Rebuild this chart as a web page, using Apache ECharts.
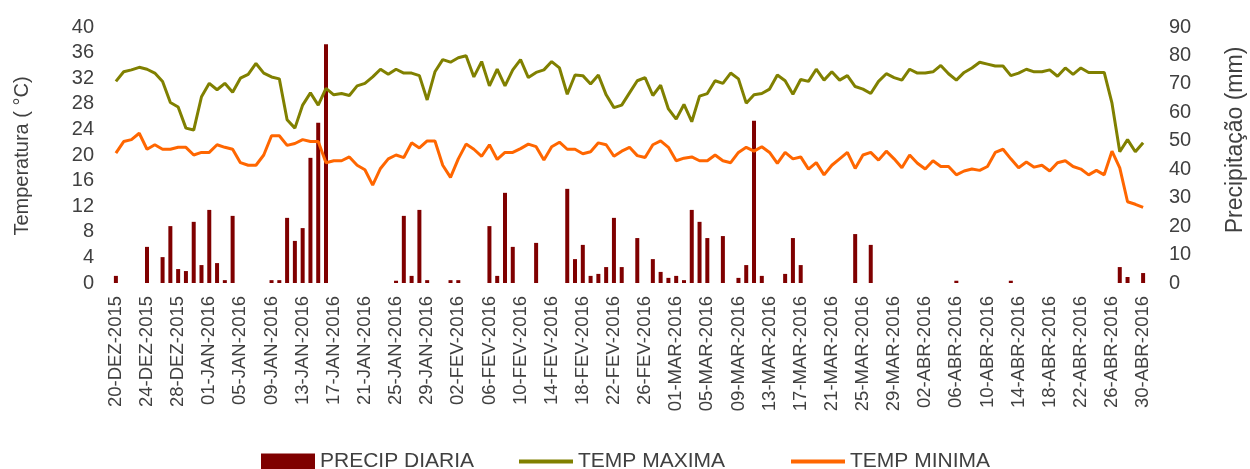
<!DOCTYPE html>
<html>
<head>
<meta charset="utf-8">
<title>Temperatura e Precipitação diária</title>
<script src="https://cdn.jsdelivr.net/npm/echarts@6/dist/echarts.min.js"></script>
<style>
  html, body { margin: 0; padding: 0; background: #ffffff; }
  #chart { width: 1250px; height: 469px; }
</style>
</head>
<body>
<div id="chart"></div>
<script>
// Daily series, 20-DEZ-2015 to 30-ABR-2016 (133 days)
const startDate = [2015, 11, 20];            // year, month index, day
const dayCount = 133;
const monthNames = ['JAN', 'FEV', 'MAR', 'ABR', 'MAI', 'JUN', 'JUL', 'AGO', 'SET', 'OUT', 'NOV', 'DEZ'];

// Daily rainfall (mm)
const precipDiaria = [
  2.5, 0, 0, 0, 12.7, 0, 9.1, 20.0, 4.9, 4.2,
  21.5, 6.3, 25.7, 7.0, 1.0, 23.6, 0, 0, 0, 0,
  1.0, 1.0, 22.9, 14.8, 19.3, 44.0, 56.3, 83.9, 0, 0,
  0, 0, 0, 0, 0, 0, 0.8, 23.6, 2.5, 25.7,
  1.0, 0, 0, 1.0, 1.0, 0, 0, 0, 20.0, 2.5,
  31.7, 12.7, 0, 0, 14.1, 0, 0, 0, 33.1, 8.4,
  13.4, 2.5, 3.2, 5.6, 22.9, 5.6, 0, 15.8, 0, 8.4,
  3.9, 1.8, 2.5, 1.0, 25.7, 21.5, 15.8, 0, 16.5, 0,
  1.8, 6.3, 57.0, 2.5, 0, 0, 3.2, 15.8, 6.3, 0,
  0, 0, 0, 0, 0, 17.2, 0, 13.4, 0, 0,
  0, 0, 0, 0, 0, 0, 0, 0, 0.8, 0,
  0, 0, 0, 0, 0, 0.8, 0, 0, 0, 0,
  0, 0, 0, 0, 0, 0, 0, 0, 0, 5.6,
  2.1, 0, 3.5
];

// Daily maximum temperature (°C)
const tempMaxima = [
  31.5, 33.0, 33.3, 33.7, 33.4, 32.8, 31.5, 28.2, 27.5, 24.2,
  23.9, 29.1, 31.2, 30.2, 31.2, 29.8, 32.0, 32.6, 34.3, 32.8,
  32.2, 31.9, 25.5, 24.2, 27.8, 29.7, 27.8, 30.4, 29.4, 29.6,
  29.3, 30.8, 31.2, 32.2, 33.4, 32.6, 33.4, 32.8, 32.8, 32.4,
  28.6, 33.0, 34.9, 34.5, 35.2, 35.5, 32.2, 34.6, 30.8, 33.4,
  30.8, 33.3, 34.9, 32.1, 32.9, 33.3, 34.6, 33.6, 29.5, 32.5,
  32.4, 31.1, 32.5, 29.4, 27.4, 27.8, 29.7, 31.6, 32.1, 29.3,
  30.9, 27.2, 25.6, 27.9, 25.2, 29.2, 29.6, 31.6, 31.2, 32.8,
  31.9, 28.1, 29.4, 29.6, 30.3, 32.5, 31.6, 29.5, 31.8, 31.5,
  33.4, 31.7, 33.0, 31.7, 32.4, 30.7, 30.3, 29.6, 31.5, 32.7,
  32.1, 31.7, 33.4, 32.8, 32.8, 33.0, 34.0, 32.7, 31.7, 32.9,
  33.6, 34.5, 34.2, 33.9, 33.9, 32.4, 32.8, 33.4, 33.0, 33.0,
  33.3, 32.3, 33.6, 32.6, 33.6, 32.9, 32.9, 32.9, 28.1, 20.5,
  22.4, 20.5, 21.9
];

// Daily minimum temperature (°C)
const tempMinima = [
  20.3, 22.1, 22.4, 23.4, 20.9, 21.6, 20.9, 20.9, 21.2, 21.2,
  20.0, 20.4, 20.4, 21.6, 21.2, 20.9, 18.8, 18.4, 18.4, 20.0,
  23.0, 23.0, 21.5, 21.8, 22.4, 22.1, 22.1, 18.8, 19.1, 19.1,
  19.7, 18.4, 17.7, 15.3, 17.9, 19.4, 20.0, 19.6, 21.9, 21.1,
  22.2, 22.2, 18.4, 16.5, 19.4, 21.7, 20.9, 19.8, 21.6, 19.3,
  20.4, 20.4, 21.0, 21.7, 21.3, 19.2, 21.3, 22.0, 20.9, 20.9,
  20.2, 20.5, 21.9, 21.6, 19.8, 20.6, 21.2, 19.9, 19.6, 21.6,
  22.2, 21.2, 19.1, 19.5, 19.7, 19.1, 19.1, 20.0, 19.1, 18.8,
  20.4, 21.2, 20.6, 21.3, 20.4, 18.7, 20.4, 19.4, 19.7, 17.8,
  18.8, 16.9, 18.4, 19.4, 20.4, 17.9, 20.0, 20.4, 19.2, 20.6,
  19.4, 18.0, 20.0, 18.7, 17.8, 19.1, 18.2, 18.2, 16.9, 17.5,
  17.8, 17.6, 18.2, 20.4, 20.9, 19.4, 18.0, 18.9, 18.1, 18.4,
  17.5, 18.8, 19.1, 18.2, 17.8, 16.9, 17.6, 16.9, 20.6, 18.0,
  12.7, 12.3, 11.8
];

// Axis scales
const tempTicks = { min: 0, max: 40, interval: 4 };
const precipTicks = { min: 0, max: 90, interval: 10 };

// Series names shown in the legend
const seriesNames = ['PRECIP DIARIA', 'TEMP MAXIMA', 'TEMP MINIMA'];

// Day labels such as "20-DEZ-2015"
const dias = [];
for (let i = 0; i < dayCount; i++) {
  const d = new Date(startDate[0], startDate[1], startDate[2] + i);
  const dd = String(d.getDate()).padStart(2, '0');
  dias.push(dd + '-' + monthNames[d.getMonth()] + '-' + d.getFullYear());
}

// Prefer a condensed face for the dates and legend when present
function hasFont(name) {
  const c = document.createElement('canvas').getContext('2d');
  c.font = '40px monospace';
  const a = c.measureText('20-DEZ-2015 PRECIP').width;
  c.font = "40px '" + name + "', monospace";
  const b = c.measureText('20-DEZ-2015 PRECIP').width;
  return Math.abs(a - b) > 0.5;
}
const narrow = hasFont('Liberation Sans Narrow');
const narrowFamily = narrow ? "'Liberation Sans Narrow', 'Liberation Sans', Arial, sans-serif"
                            : "'Liberation Sans', Arial, sans-serif";
const dateSize = narrow ? 22 : 18.5;
const legendSize = narrow ? 24 : 21;
const baseFamily = "'Liberation Sans', Arial, sans-serif";
const textColor = '#404040';

const chart = echarts.init(document.getElementById('chart'), null, { renderer: 'canvas' });

const legendCommon = {
  top: 446,
  itemWidth: 54,
  textStyle: { fontFamily: narrowFamily, fontSize: legendSize, color: textColor },
  selectedMode: false
};

chart.setOption({
  animation: false,
  backgroundColor: '#ffffff',
  grid: { left: 112, right: 103, top: 27, bottom: 186, containLabel: false },
  legend: [
    Object.assign({}, legendCommon, { left: 256, itemHeight: 16, data: [{ name: seriesNames[0], icon: 'rect' }] }),
    Object.assign({}, legendCommon, { left: 514, itemHeight: 4, data: [{ name: seriesNames[1], icon: 'rect' }] }),
    Object.assign({}, legendCommon, { left: 786, itemHeight: 4, data: [{ name: seriesNames[2], icon: 'rect' }] })
  ],
  xAxis: {
    type: 'category',
    data: dias,
    boundaryGap: true,
    axisLine: { show: false },
    axisTick: { show: false },
    splitLine: { show: false },
    axisLabel: {
      interval: 3,
      rotate: 90,
      margin: 13,
      color: textColor,
      fontFamily: narrowFamily,
      fontSize: dateSize
    }
  },
  yAxis: [
    {
      type: 'value',
      min: tempTicks.min, max: tempTicks.max, interval: tempTicks.interval,
      axisLine: { show: false },
      axisTick: { show: false },
      splitLine: { show: false },
      axisLabel: { margin: 18, color: textColor, fontFamily: baseFamily, fontSize: 20 }
    },
    {
      type: 'value',
      min: precipTicks.min, max: precipTicks.max, interval: precipTicks.interval,
      position: 'right',
      axisLine: { show: false },
      axisTick: { show: false },
      splitLine: { show: false },
      axisLabel: { margin: 22, color: textColor, fontFamily: baseFamily, fontSize: 20 }
    }
  ],
  graphic: [
    {
      type: 'text', x: 22, y: 156, rotation: Math.PI / 2,
      style: {
        text: 'Temperatura ( °C)', fill: textColor,
        font: '20px ' + baseFamily, align: 'center', verticalAlign: 'middle'
      }
    },
    {
      type: 'text', x: 1236, y: 140, rotation: Math.PI / 2,
      style: {
        text: 'Precipitação (mm)', fill: textColor,
        font: '23px ' + baseFamily, align: 'center', verticalAlign: 'middle'
      }
    }
  ],
  series: [
    {
      name: seriesNames[0],
      type: 'bar',
      yAxisIndex: 1,
      data: precipDiaria,
      barWidth: 4,
      itemStyle: { color: '#7f0000' }
    },
    {
      name: seriesNames[1],
      type: 'line',
      yAxisIndex: 0,
      data: tempMaxima,
      symbol: 'none',
      lineStyle: { width: 3, color: '#808000' },
      itemStyle: { color: '#808000' }
    },
    {
      name: seriesNames[2],
      type: 'line',
      yAxisIndex: 0,
      data: tempMinima,
      symbol: 'none',
      lineStyle: { width: 3, color: '#ff6600' },
      itemStyle: { color: '#ff6600' }
    }
  ]
});
</script>
</body>
</html>
